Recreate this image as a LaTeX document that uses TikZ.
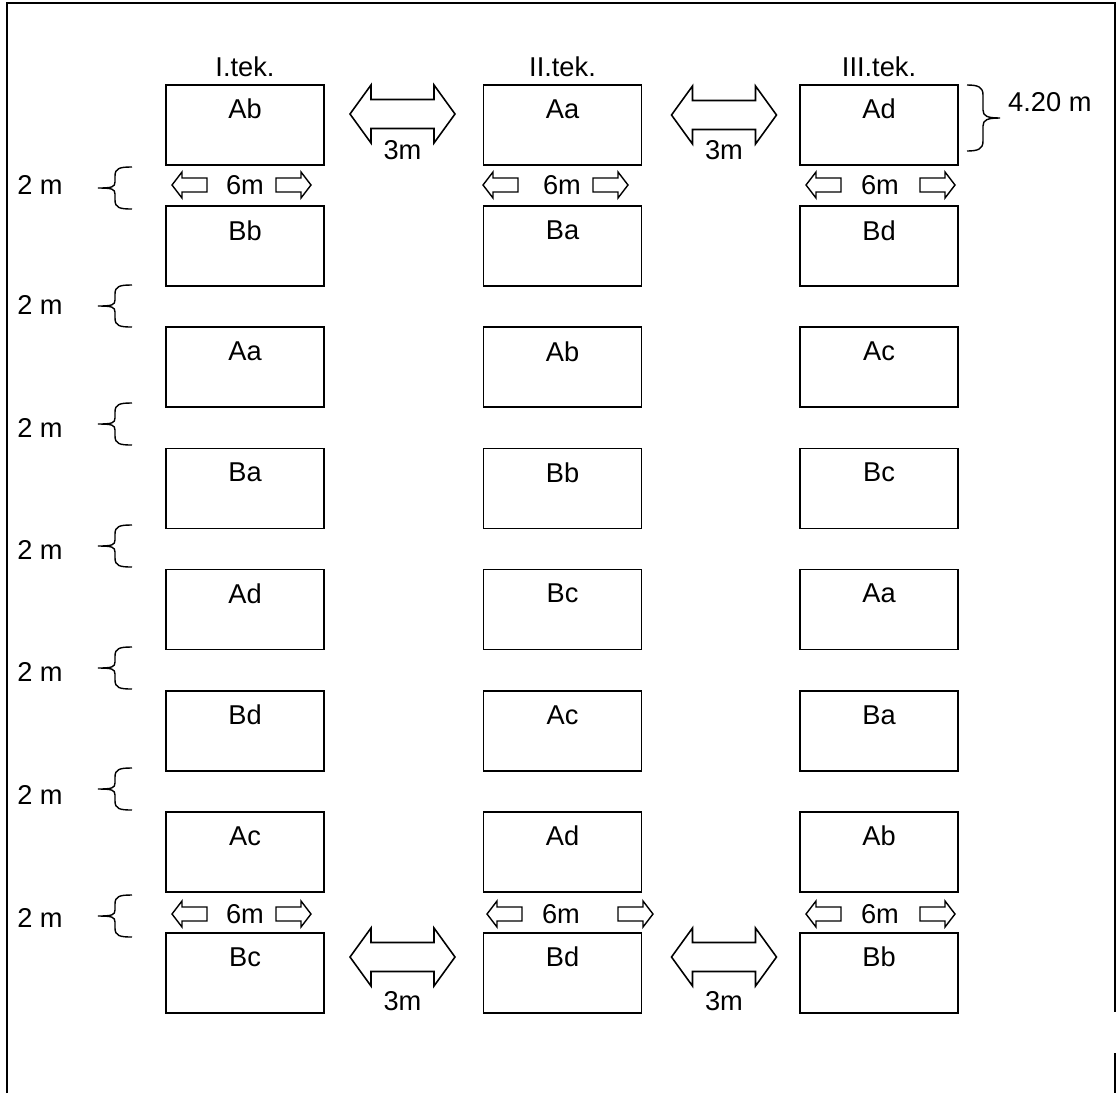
\documentclass[tikz,border=0pt]{standalone}
\usepackage{fontspec}
\setmainfont{Liberation Sans}

\begin{document}
\begin{tikzpicture}[x=0.02cm, y=-0.02cm, font=\fontsize{15.5}{18}\selectfont,
  plot/.style={draw, line width=1pt, minimum width=3.16cm, minimum height=1.6cm, inner sep=0pt, label={[anchor=center, yshift=-0.5cm]north:#1}},
  fatarrow/.style={draw, line width=0.9pt, line join=miter},
  thinarrow/.style={draw, line width=0.8pt},
  gapbrace/.style={draw, line width=0.8pt}]
\useasboundingbox (0,0) rectangle (1119,1093);
\draw[line width=1pt] (7,1093) -- (7,3) -- (1115,3) -- (1115,1012) (1115,1053) -- (1115,1093);
% plots
\foreach \cx/\k/\names in {245/1/{Ab,Bb,Aa,Ba,Ad,Bd,Ac,Bc}, 562.5/2/{Aa,Ba,Ab,Bb,Bc,Ac,Ad,Bd}, 879/3/{Ad,Bd,Ac,Bc,Aa,Ba,Ab,Bb}}
  \foreach \nm [count=\r] in \names
    \node[plot=\nm] (p\k\r) at (\cx,125+121.14*\r-121.14) {};
\node (hd1) at (245,67) {I.tek.};
\node (hd2) at (562.5,67) {II.tek.};
\node (hd3) at (879,67) {III.tek.};
% 3m arrows
\foreach \ax/\ay/\ly [count=\i] in {402.5/114/150, 724/115/150, 402.5/957/1001, 724/957/1001} {
  \draw[fatarrow] (\ax,\ay) ++(-52.5,0) -- ++(21,-29) -- ++(0,14.5) -- ++(63,0) -- ++(0,-14.5) -- ++(21,29) -- ++(-21,29) -- ++(0,-14.5) -- ++(-63,0) -- ++(0,14.5) -- cycle;
  \node (w\i) at (\ax,\ly) {3m};
}
% 6m arrows
\foreach \lx/\rx/\tx/\ty [count=\i] in {172/311/245/185, 483/628/562/185, 806/955/880/185, 172/311/245/914, 487/653/561/914, 806/955/880/914} {
  \draw[thinarrow] (\lx,\ty) -- ++(10,-13) -- ++(0,6) -- ++(25,0) -- ++(0,14) -- ++(-25,0) -- ++(0,6) -- cycle;
  \draw[thinarrow] (\rx,\ty) -- ++(-10,-13) -- ++(0,6) -- ++(-25,0) -- ++(0,14) -- ++(25,0) -- ++(0,6) -- cycle;
  \node (s\i) at (\tx,\ty) {6m};
}
% 2 m braces
\foreach \by/\gy [count=\i] in {188/185, 306/305, 424/428, 546/550, 668/672, 789/795, 916/918} {
  \node (g\i) at (40,\gy) {2 m};
  \draw[gapbrace] (132,\by-21) .. controls (120,\by-21) and (115,\by-20) .. (115,\by-12) -- (115,\by-6) .. controls (115,\by-1) and (112,\by) .. (98,\by) .. controls (112,\by) and (115,\by+1) .. (115,\by+6) -- (115,\by+12) .. controls (115,\by+20) and (120,\by+21) .. (132,\by+21);
}
\draw[gapbrace] (967,85) .. controls (978,85) and (983,87) .. (983,95) -- (983,110) .. controls (983,116) and (987,118) .. (1000,118) .. controls (987,118) and (983,120) .. (983,126) -- (983,141) .. controls (983,149) and (978,151) .. (967,151);
\node[anchor=west] (hgt) at (1002,102) {4.20 m};
\end{tikzpicture}
\end{document}
